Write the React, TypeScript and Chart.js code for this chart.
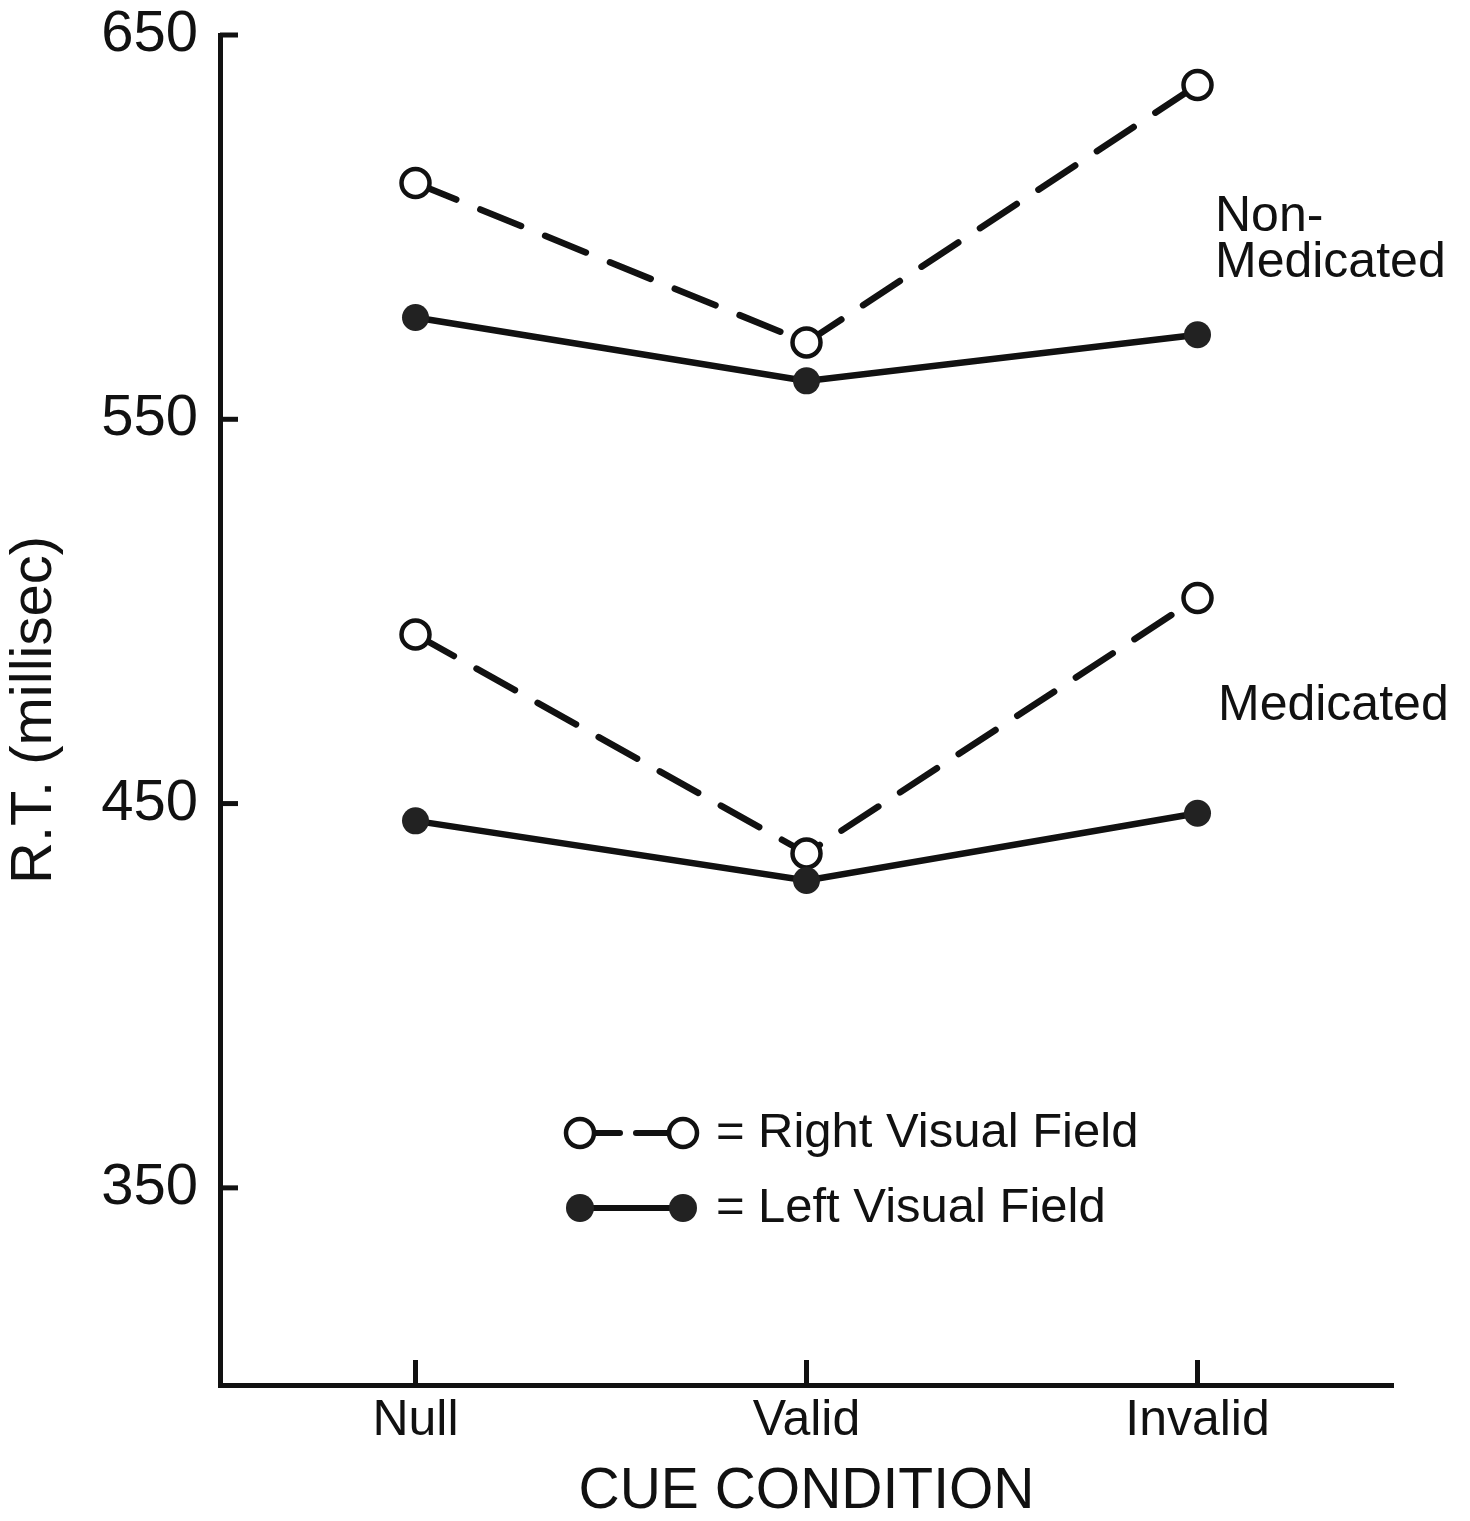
import React, { useEffect, useRef } from "react";
import { Chart, registerables } from "chart.js";

Chart.register(...registerables);

// ---- data ----
const categories = ["Null", "Valid", "Invalid"];
const rvfNonMedicated = [611.5, 570, 637];
const lvfNonMedicated = [576.5, 560, 572];
const rvfMedicated = [494, 437, 503.5];
const lvfMedicated = [445.5, 430, 447.5];
const yTickValues = [350, 450, 550, 650];
const yMin = 298.7;
const yMax = 650;
const yTitle = "R.T. (millisec)";
const xTitle = "CUE CONDITION";
const groupTopLines = ["Non-", "Medicated"];
const groupBottomLine = "Medicated";
const legendRight = "Right Visual Field";
const legendLeft = "Left Visual Field";

const INK = "#111111";
const FILL = "#222222";
const FONT = '"Liberation Sans", Arial, sans-serif';

const decorPlugin = {
  id: "decor",
  afterDraw(chart: any) {
    const { ctx, chartArea, scales } = chart;
    const xs = scales.x;
    const ys = scales.y;
    const L = chartArea.left;
    const T = chartArea.top;
    const R = chartArea.right;
    const B = chartArea.bottom;
    ctx.save();
    // inside tick marks
    ctx.strokeStyle = INK;
    ctx.lineWidth = 5;
    ctx.lineCap = "butt";
    yTickValues.forEach((v) => {
      const py = ys.getPixelForValue(v);
      ctx.beginPath();
      ctx.moveTo(L, py);
      ctx.lineTo(L + 18, py);
      ctx.stroke();
    });
    categories.forEach((_c, i) => {
      const px = xs.getPixelForValue(i);
      ctx.beginPath();
      ctx.moveTo(px, B);
      ctx.lineTo(px, B - 25);
      ctx.stroke();
    });

    // group annotations
    ctx.fillStyle = INK;
    ctx.font = `50px ${FONT}`;
    ctx.textAlign = "left";
    ctx.textBaseline = "alphabetic";
    ctx.fillText(groupTopLines[0], R - 178, T + 196);
    ctx.fillText(groupTopLines[1], R - 178, T + 242);
    ctx.fillText(groupBottomLine, R - 175, T + 685);

    // legend
    const cx1 = L + 360;
    const cx2 = L + 463;
    const row1 = T + 1098;
    const row2 = T + 1173;
    // row 1: open circles with dashes
    ctx.lineCap = "round";
    ctx.lineWidth = 6;
    ctx.beginPath();
    ctx.moveTo(cx1 + 14, row1);
    ctx.lineTo(cx1 + 40, row1);
    ctx.moveTo(cx1 + 56, row1);
    ctx.lineTo(cx2 - 14, row1);
    ctx.stroke();
    [cx1, cx2].forEach((cx) => {
      ctx.beginPath();
      ctx.arc(cx, row1, 14, 0, Math.PI * 2);
      ctx.fillStyle = "#ffffff";
      ctx.fill();
      ctx.lineWidth = 4.5;
      ctx.strokeStyle = INK;
      ctx.stroke();
    });
    // row 2: filled circles with solid line
    ctx.lineWidth = 6;
    ctx.beginPath();
    ctx.moveTo(cx1, row2);
    ctx.lineTo(cx2, row2);
    ctx.stroke();
    [cx1, cx2].forEach((cx) => {
      ctx.beginPath();
      ctx.arc(cx, row2, 14, 0, Math.PI * 2);
      ctx.fillStyle = FILL;
      ctx.fill();
    });
    ctx.fillStyle = INK;
    ctx.font = `49px ${FONT}`;
    ctx.textBaseline = "middle";
    ctx.fillText("=", L + 496, row1);
    ctx.fillText("=", L + 496, row2);
    ctx.fillText(legendRight, L + 538, row1);
    ctx.fillText(legendLeft, L + 538, row2);
    ctx.restore();
  },
};

export default function App() {
  const ref = useRef<HTMLCanvasElement | null>(null);

  useEffect(() => {
    if (!ref.current) return;
    const openStyle = {
      borderColor: INK,
      borderWidth: 6.5,
      borderDash: [44, 26],
      borderCapStyle: "round" as const,
      pointRadius: 14,
      pointBorderWidth: 4.5,
      pointBackgroundColor: "#ffffff",
      pointBorderColor: INK,
      tension: 0,
    };
    const filledStyle = {
      borderColor: INK,
      borderWidth: 6.5,
      borderCapStyle: "round" as const,
      pointRadius: 13.5,
      pointBorderWidth: 0,
      pointBackgroundColor: FILL,
      pointBorderColor: FILL,
      tension: 0,
    };
    const chart = new Chart(ref.current, {
      type: "line",
      data: {
        labels: categories,
        datasets: [
          { label: "Left Visual Field (Medicated)", data: lvfMedicated, ...filledStyle },
          { label: "Left Visual Field (Non-Medicated)", data: lvfNonMedicated, ...filledStyle },
          { label: "Right Visual Field (Medicated)", data: rvfMedicated, ...openStyle },
          { label: "Right Visual Field (Non-Medicated)", data: rvfNonMedicated, ...openStyle },
        ],
      },
      options: {
        animation: false,
        responsive: false,
        events: [],
        layout: { padding: { left: 0, top: 35, right: 77, bottom: 0 } },
        plugins: {
          legend: { display: false },
          tooltip: { enabled: false },
        },
        scales: {
          x: {
            type: "category",
            offset: true,
            grid: { display: false, drawTicks: false },
            border: { display: true, color: INK, width: 5 },
            ticks: {
              color: INK,
              padding: 6,
              font: { family: FONT, size: 50 },
            },
            title: {
              display: true,
              text: xTitle,
              color: INK,
              font: { family: FONT, size: 57, lineHeight: 1.0 },
              padding: { top: 0, bottom: 0 },
            },
            afterFit(scale: any) {
              scale.height = 136;
              scale.paddingLeft = 0;
              scale.paddingRight = 0;
            },
          },
          y: {
            type: "linear",
            min: yMin,
            max: yMax,
            grid: { display: false, drawTicks: false },
            border: { display: true, color: INK, width: 5 },
            afterBuildTicks(scale: any) {
              scale.ticks = yTickValues.map((v) => ({ value: v }));
            },
            ticks: {
              color: INK,
              padding: 22,
              font: { family: FONT, size: 58 },
              callback: (v: any) => String(v),
            },
            title: {
              display: true,
              text: yTitle,
              color: INK,
              font: { family: FONT, size: 58, lineHeight: 1.1 },
              padding: { top: 3, bottom: 0 },
            },
            afterFit(scale: any) {
              scale.width = 220;
              scale.paddingTop = 0;
              scale.paddingBottom = 0;
            },
          },
        },
      },
      plugins: [decorPlugin],
    });
    return () => chart.destroy();
  }, []);

  return (
    <div style={{ position: "absolute", left: 0, top: 0, width: 1470, height: 1521, background: "#ffffff" }}>
      <canvas ref={ref} width={1470} height={1521} style={{ display: "block" }} />
    </div>
  );
}
